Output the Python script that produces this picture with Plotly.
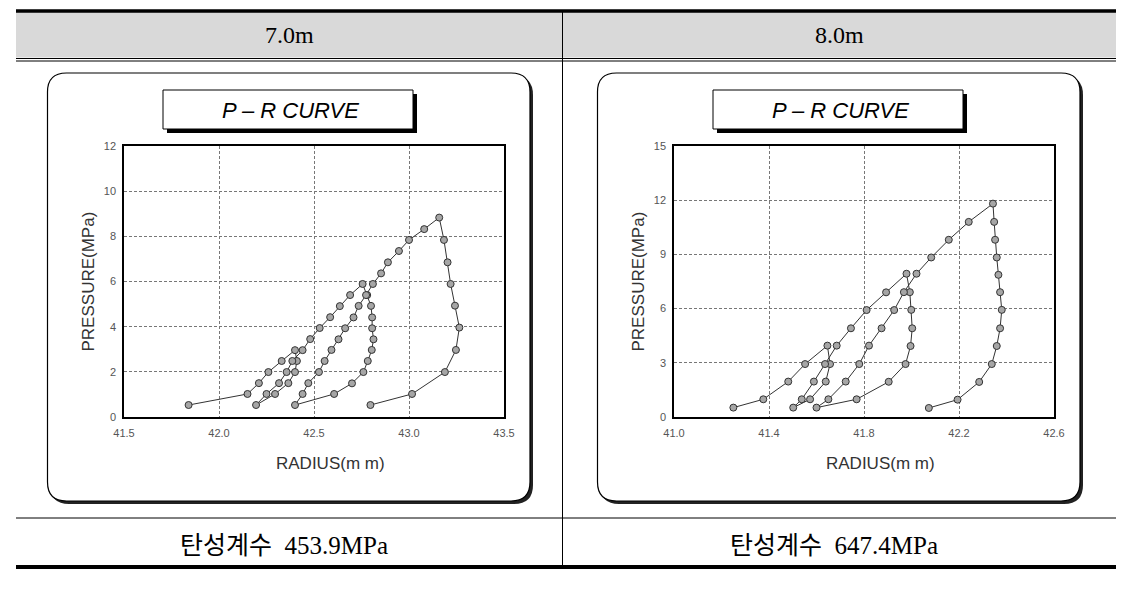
import plotly.graph_objects as go

W, H = 1134, 596
# the page body adds an 8px margin, so positions are given in screen pixels and shifted back
OFF_X, OFF_Y = 8, 8

# 7.0m test: radius (mm) and pressure (MPa), read in test order
radius_7m = [41.84, 42.15, 42.21, 42.26, 42.33, 42.40,
             42.41, 42.40, 42.365, 42.295, 42.195,
             42.25, 42.316, 42.356, 42.386, 42.44, 42.48, 42.53, 42.585, 42.636, 42.69, 42.756,
             42.78, 42.80, 42.806, 42.806, 42.813, 42.804, 42.783, 42.76, 42.70, 42.606, 42.40,
             42.44, 42.47, 42.526, 42.556, 42.592, 42.629, 42.664, 42.708, 42.735, 42.774, 42.81,
             42.853, 42.889, 42.947, 43.0, 43.08, 43.159,
             43.184, 43.203, 43.219, 43.242, 43.265, 43.247, 43.189, 43.016, 42.797]
pressure_7m = [0.53, 1.02, 1.5, 1.99, 2.48, 2.96,
               2.48, 1.99, 1.5, 1.02, 0.53,
               1.02, 1.5, 1.99, 2.48, 2.96, 3.45, 3.94, 4.42, 4.91, 5.4, 5.89,
               5.4, 4.92, 4.41, 3.93, 3.44, 2.97, 2.48, 1.99, 1.49, 1.02, 0.53,
               1.02, 1.5, 1.99, 2.48, 2.97, 3.44, 3.93, 4.41, 4.92, 5.4, 5.89,
               6.36, 6.85, 7.35, 7.84, 8.32, 8.83,
               7.84, 6.85, 5.89, 4.93, 3.96, 2.97, 1.99, 1.02, 0.53]

# 8.0m test
radius_8m = [41.25, 41.376, 41.481, 41.552, 41.646,
             41.657, 41.639, 41.573, 41.502,
             41.538, 41.589, 41.636, 41.685, 41.745, 41.811, 41.893, 41.979,
             41.993, 41.999, 42.003, 41.996, 41.975, 41.904, 41.769, 41.60,
             41.65, 41.723, 41.78, 41.821, 41.874, 41.927, 41.968, 42.021, 42.083, 42.157, 42.241, 42.343,
             42.348, 42.352, 42.359, 42.366, 42.373, 42.38, 42.373, 42.359, 42.338, 42.285, 42.194, 42.073]
pressure_8m = [0.52, 0.98, 1.96, 2.93, 3.95,
               2.93, 1.96, 0.98, 0.52,
               0.98, 1.96, 2.93, 3.95, 4.91, 5.92, 6.9, 7.93,
               6.91, 5.93, 4.91, 3.93, 2.93, 1.95, 0.98, 0.52,
               0.98, 1.96, 2.93, 3.95, 4.91, 5.92, 6.91, 7.93, 8.83, 9.81, 10.8, 11.81,
               10.8, 9.81, 8.83, 7.87, 6.91, 5.93, 4.91, 3.93, 2.93, 1.94, 0.96, 0.5]

depth_labels = ["7.0m", "8.0m"]
modulus_labels = ["탄성계수  453.9MPa", "탄성계수  647.4MPa"]
chart_title = "P – R CURVE"
x_title = "RADIUS(m m)"
y_title = "PRESSURE(MPa)"

x_ranges = [[41.5, 43.5], [41.0, 42.6]]
x_dticks = [0.5, 0.4]
y_ranges = [[0, 12], [0, 15]]
y_dticks = [2, 3]


def fx(x):
    return (x - OFF_X) / W


def fy(y):
    return 1 - (y - OFF_Y) / H


def rounded_path(x0, y0, x1, y1, r):
    return (f"M {fx(x0 + r)},{fy(y0)} L {fx(x1 - r)},{fy(y0)} "
            f"Q {fx(x1)},{fy(y0)} {fx(x1)},{fy(y0 + r)} L {fx(x1)},{fy(y1 - r)} "
            f"Q {fx(x1)},{fy(y1)} {fx(x1 - r)},{fy(y1)} L {fx(x0 + r)},{fy(y1)} "
            f"Q {fx(x0)},{fy(y1)} {fx(x0)},{fy(y1 - r)} L {fx(x0)},{fy(y0 + r)} "
            f"Q {fx(x0)},{fy(y0)} {fx(x0 + r)},{fy(y0)} Z")


def label(text, x, y, size, family, color="black", angle=0):
    return dict(text=text, x=fx(x), y=fy(y), xref="paper", yref="paper",
                xanchor="center", yanchor="middle", showarrow=False, textangle=angle,
                font=dict(family=family, size=size, color=color))


fig = go.Figure()

series = [(radius_7m, pressure_7m), (radius_8m, pressure_8m)]
shapes = []
annotations = []

# table
shapes.append(dict(type="rect", xref="paper", yref="paper", x0=fx(16), x1=fx(1116),
                   y0=fy(57.5), y1=fy(12), fillcolor="#d9d9d9", line=dict(width=0), layer="below"))
for y, w in [(11, 3.5), (58.5, 1), (61, 1), (518, 1), (567, 4)]:
    shapes.append(dict(type="line", xref="paper", yref="paper", x0=fx(16), x1=fx(1116),
                       y0=fy(y), y1=fy(y), line=dict(color="black", width=w), layer="below"))
shapes.append(dict(type="line", xref="paper", yref="paper", x0=fx(562.5), x1=fx(562.5),
                   y0=fy(12), y1=fy(565), line=dict(color="black", width=1), layer="below"))

sans = "Liberation Sans, Arial"
serif = "Liberation Serif, Times New Roman, Noto Sans CJK KR"
for i in range(2):
    off = 550 * i
    # rounded panel with shadow
    shapes.append(dict(type="path", xref="paper", yref="paper",
                       path=rounded_path(50 + off, 76, 533 + off, 504, 19),
                       fillcolor="#222222", line=dict(width=0), layer="below"))
    shapes.append(dict(type="path", xref="paper", yref="paper",
                       path=rounded_path(47.5 + off, 73, 530 + off, 501, 19),
                       fillcolor="white", line=dict(color="black", width=1.2), layer="below"))
    # title box with shadow
    shapes.append(dict(type="rect", xref="paper", yref="paper",
                       x0=fx(167 + off), x1=fx(417 + off), y0=fy(133), y1=fy(94),
                       fillcolor="black", line=dict(width=0), layer="below"))
    shapes.append(dict(type="rect", xref="paper", yref="paper",
                       x0=fx(163 + off), x1=fx(413 + off), y0=fy(129), y1=fy(90),
                       fillcolor="white", line=dict(color="black", width=1), layer="below"))

    annotations.append(label(f"<i>{chart_title}</i>", 290 + off, 110, 22, sans))
    annotations.append(label(depth_labels[i], 289 + off, 35, 24, serif))
    annotations.append(label(modulus_labels[i], 284 + off, 545, 25, serif))
    annotations.append(label(x_title, 330 + off, 463, 17, sans, "#333333"))
    annotations.append(label(y_title, 88 + off, 281.5, 17, sans, "#333333", -90))

    n = "" if i == 0 else "2"
    r, p = series[i]
    fig.add_trace(go.Scatter(x=r, y=p, mode="lines+markers", xaxis="x" + n, yaxis="y" + n,
                             line=dict(color="#333333", width=1),
                             marker=dict(symbol="circle", size=7, color="#a6a6a6",
                                         line=dict(color="#333333", width=1)),
                             showlegend=False, hoverinfo="x+y"))

    axis_common = dict(showline=True, mirror=True, linecolor="black", linewidth=1.5,
                       showgrid=True, gridcolor="#777777", gridwidth=1, griddash="3px,2px",
                       zeroline=False, ticks="", fixedrange=True, automargin=False,
                       tickfont=dict(family=sans, size=11, color="#555555"))
    fig.update_layout({
        "xaxis" + n: dict(axis_common, domain=[fx(124 + off), fx(504 + off)],
                          range=x_ranges[i], dtick=x_dticks[i], tick0=x_ranges[i][0],
                          tickformat=".1f", anchor="y" + n, ticklabelstandoff=5),
        "yaxis" + n: dict(axis_common, domain=[fy(417), fy(146)],
                          range=y_ranges[i], dtick=y_dticks[i], tick0=0,
                          anchor="x" + n, ticklabelstandoff=4),
    })

fig.update_layout(width=W, height=H,
                  margin=dict(l=0, r=0, t=0, b=0, pad=0, autoexpand=False),
                  paper_bgcolor="white", plot_bgcolor="rgba(0,0,0,0)",
                  shapes=shapes, annotations=annotations)

fig.write_html("out.html")
